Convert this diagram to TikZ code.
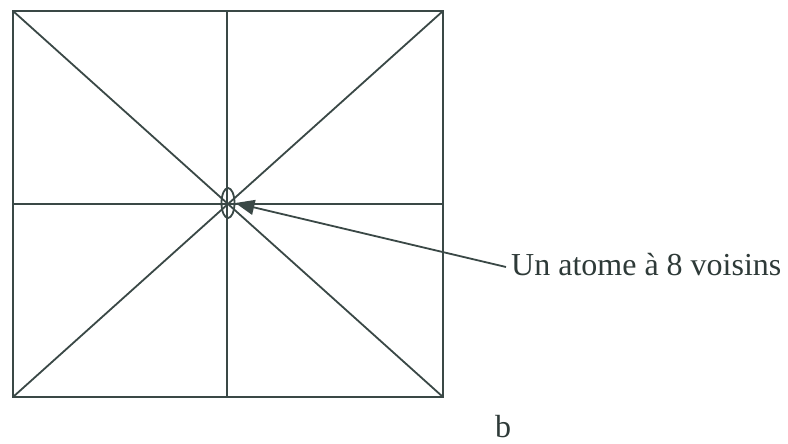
\documentclass[tikz,border=0pt]{standalone}
\usepackage{fontspec}
\setmainfont{Liberation Serif}
\usetikzlibrary{arrows.meta,shapes.geometric}
\definecolor{ink}{HTML}{3A4846}
\begin{document}
\begin{tikzpicture}[x=1pt,y=-1pt,
  ln/.style={draw=ink,line width=1.8pt},
  lbl/.style={font=\fontsize{32}{36}\selectfont,text=ink!80!black,inner sep=0pt}]
\useasboundingbox (0,0) rectangle (788,444);
\fill[white] (0,0) rectangle (788,444);
\coordinate (tl) at (13,11);
\coordinate (tr) at (443,11);
\coordinate (bl) at (13,397);
\coordinate (br) at (443,397);
\coordinate (tm) at (227,11);
\coordinate (bm) at (227,397);
\coordinate (lm) at (13,204);
\coordinate (rm) at (443,204);
\draw[ln] (tl) rectangle (br);
\draw[ln] (tl) -- (br);
\draw[ln] (tr) -- (bl);
\draw[ln] (tm) -- (bm);
\draw[ln] (lm) -- (rm);
\node[ellipse,draw=ink,line width=1.8pt,minimum width=13pt,minimum height=30pt,inner sep=0pt] (atom) at (228,203) {};
\node[lbl,anchor=base west] (txt) at (511,275) {Un atome à 8 voisins};
\coordinate (tail) at (506,267);
\draw[ln,-{Triangle[length=19pt,width=15pt]}] (tail) -- (atom.east);
\node[lbl,anchor=base] (b) at (503,437) {b};
\end{tikzpicture}
\end{document}
